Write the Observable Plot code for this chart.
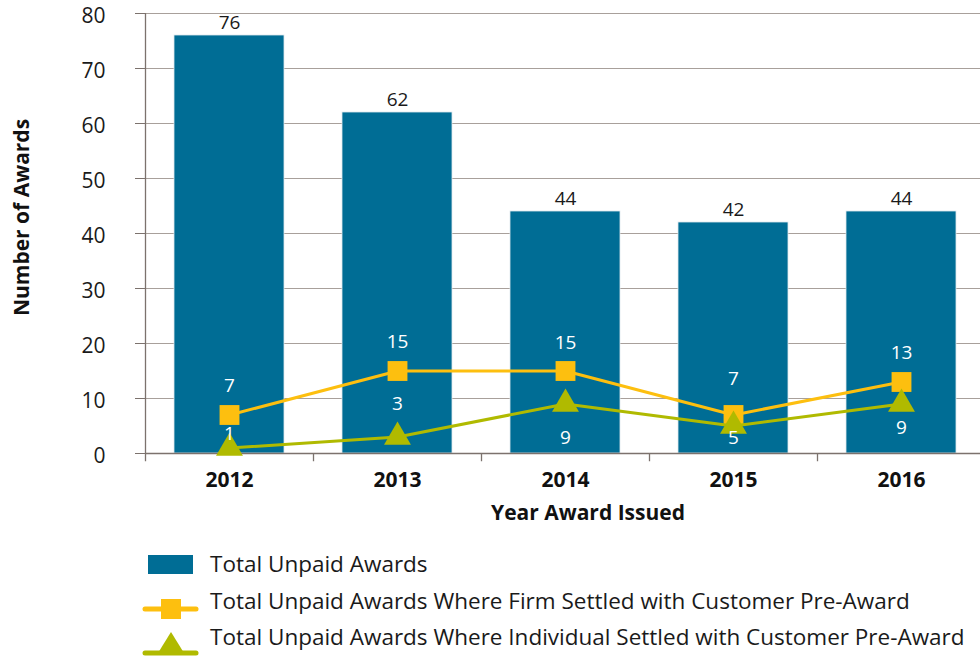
<!DOCTYPE html>
<html>
<head>
<meta charset="utf-8">
<script src="https://cdn.jsdelivr.net/npm/d3@7"></script>
<script src="https://cdn.jsdelivr.net/npm/@observablehq/plot@0.6"></script>
<style>
  html, body { margin: 0; padding: 0; background: #fff; }
  #wrap { position: relative; width: 980px; height: 656px; font-family: "Open Sans", sans-serif; color: #1a1a1a; }
  .leg { position: absolute; left: 210px; font-size: 22.5px; line-height: 26px; white-space: nowrap; }
  #legsw { position: absolute; left: 0; top: 530px; }
</style>
</head>
<body>
<div id="wrap">
  <div id="chart"></div>
  <svg id="legsw" width="980" height="126"></svg>
  <div id="legend"></div>
</div>
<script>
const years = ["2012", "2013", "2014", "2015", "2016"];
const totalUnpaid = [76, 62, 44, 42, 44];
const firmSettled = [7, 15, 15, 7, 13];
const individualSettled = [1, 3, 9, 5, 9];
const yTicks = [0, 10, 20, 30, 40, 50, 60, 70, 80];
const seriesNames = [
  "Total Unpaid Awards",
  "Total Unpaid Awards Where Firm Settled with Customer Pre-Award",
  "Total Unpaid Awards Where Individual Settled with Customer Pre-Award"
];
const xTitle = "Year Award Issued";
const yTitle = "Number of Awards";

const BLUE = "#006d95", ORANGE = "#fdbf0f", GREEN = "#b0ba00", GRID = "#a8a09b", AXIS = "#7c726d";

const rows = years.map((year, i) => ({
  year, total: totalUnpaid[i], firm: firmSettled[i], individual: individualSettled[i], i
}));

const greenDy = [-14, -33, 34, 12, 24];
const orangeDy = [-29, -29, -28, -36, -29];

const marks = [
  Plot.gridY(yTicks, {stroke: GRID, strokeOpacity: 1, strokeWidth: 1.2}),
  Plot.axisY(yTicks, {tickSize: 10, text: null, stroke: AXIS, label: null}),
  Plot.axisY(yTicks, {tickSize: 0, tickPadding: 40, dy: 3, fontSize: 21, fill: "#1a1a1a", label: null}),
  Plot.barY(rows, {x: "year", y: "total", fill: BLUE, stroke: "#dfe8ee", strokeWidth: 0.8}),
  Plot.ruleY([0], {stroke: AXIS, strokeWidth: 1.3}),
  Plot.ruleX(years, {x: d => d, dx: -84, y1: -1.5, y2: 0, stroke: AXIS, strokeWidth: 1.3}),
  Plot.ruleX([years[0]], {x: d => d, dx: -84, y1: 0, y2: 80, stroke: AXIS, strokeWidth: 1.3}),
  Plot.axisX(years, {tickSize: 0, tickPadding: 19, fontSize: 21, fontWeight: "bold", fill: "#111", label: null}),
  Plot.text(rows, {x: "year", y: "total", text: d => String(d.total), dy: -13, fontSize: 19, fill: "#1a1a1a"}),
  Plot.line(rows, {x: "year", y: "firm", stroke: ORANGE, strokeWidth: 3}),
  Plot.dot(rows, {x: "year", y: "firm", symbol: "square", r: 11.2, fill: ORANGE}),
  Plot.line(rows, {x: "year", y: "individual", stroke: GREEN, strokeWidth: 3}),
  Plot.dot(rows, {x: "year", y: "individual", symbol: "triangle", r: 10, fill: GREEN}),
  Plot.text([xTitle], {frameAnchor: "bottom", text: d => d, textAnchor: "middle", lineAnchor: "middle", dx: 25, dy: 60, fontSize: 21, fontWeight: "bold", fill: "#111"}),
  Plot.text([yTitle], {frameAnchor: "left", text: d => d, textAnchor: "middle", lineAnchor: "middle", rotate: -90, dx: -123, dy: -16, fontSize: 21, fontWeight: "bold", fill: "#111"})
];
rows.forEach((r, i) => {
  marks.push(Plot.text([r], {x: "year", y: "firm", text: d => String(d.firm), dy: orangeDy[i], fontSize: 19, fill: "white"}));
  marks.push(Plot.text([r], {x: "year", y: "individual", text: d => String(d.individual), dy: greenDy[i], fontSize: 19, fill: "white"}));
});

const chart = Plot.plot({
  width: 980,
  height: 530,
  marginTop: 13,
  marginBottom: 77,
  marginLeft: 145,
  marginRight: 0,
  style: {fontFamily: "Open Sans, sans-serif", fontSize: "18px", color: "#1a1a1a", background: "white"},
  x: {type: "band", domain: years, range: [145, 985], paddingInner: 0.345, paddingOuter: 0.1725, axis: null},
  y: {domain: [0, 80], axis: null},
  marks
});
document.getElementById("chart").appendChild(chart);

// legend swatches
const sw = d3.select("#legsw");
sw.append("rect").attr("x", 148).attr("y", 25).attr("width", 45).attr("height", 19).attr("fill", BLUE);
sw.append("line").attr("x1", 145).attr("x2", 196).attr("y1", 79).attr("y2", 79)
  .attr("stroke", ORANGE).attr("stroke-width", 5).attr("stroke-linecap", "round");
sw.append("rect").attr("x", 161).attr("y", 69).attr("width", 20).attr("height", 20).attr("fill", ORANGE);
sw.append("line").attr("x1", 145).attr("x2", 196).attr("y1", 123).attr("y2", 123)
  .attr("stroke", GREEN).attr("stroke-width", 5).attr("stroke-linecap", "round");
sw.append("path").attr("d", "M171,102 L184,123 L158,123 Z").attr("fill", GREEN);

const legCenters = [565, 602, 638];
const leg = d3.select("#legend");
seriesNames.forEach((name, i) => {
  leg.append("div").attr("class", "leg").style("top", (legCenters[i] - 14) + "px").text(name);
});
</script>
</body>
</html>
